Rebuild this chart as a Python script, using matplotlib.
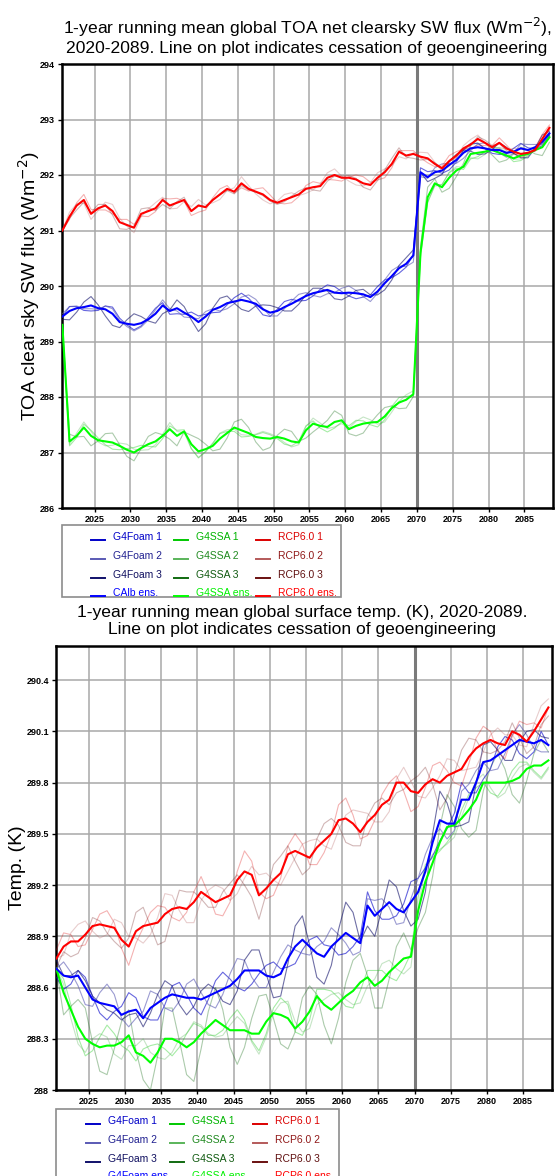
import numpy as np
import matplotlib
matplotlib.use('Agg')
import matplotlib.pyplot as plt
from matplotlib.lines import Line2D
from matplotlib.patches import Rectangle

FONT = ['Liberation Sans', 'DejaVu Sans']
W, H = 556, 1176

# mid-points of the 1-year running mean
years = np.arange(2020.5, 2089.0, 1.0)

# --- top panel: TOA clear-sky SW flux (Wm-2) ---
toa_foam_1 = [289.45, 289.63, 289.63, 289.56, 289.55, 289.56, 289.64, 289.62, 289.42, 289.30,
              289.21, 289.28, 289.44, 289.60, 289.70, 289.49, 289.50, 289.49, 289.53, 289.46,
              289.49, 289.52, 289.53, 289.66, 289.79, 289.87, 289.78, 289.64, 289.48, 289.45,
              289.58, 289.72, 289.76, 289.73, 289.74, 289.82, 289.94, 290.02, 289.99, 289.90,
              289.82, 289.77, 289.80, 289.84, 289.99, 290.11, 290.15, 290.23, 290.34, 290.57,
              292.13, 292.06, 292.08, 292.03, 292.09, 292.23, 292.45, 292.57, 292.57, 292.48,
              292.39, 292.37, 292.38, 292.48, 292.57, 292.49, 292.47, 292.53, 292.71]
toa_foam_2 = [289.50, 289.63, 289.64, 289.59, 289.59, 289.58, 289.64, 289.59, 289.38, 289.27,
              289.19, 289.26, 289.39, 289.57, 289.75, 289.59, 289.55, 289.44, 289.43, 289.41,
              289.54, 289.59, 289.55, 289.59, 289.68, 289.80, 289.84, 289.76, 289.60, 289.46,
              289.46, 289.59, 289.73, 289.85, 289.88, 289.83, 289.80, 289.86, 289.88, 289.96,
              290.00, 289.92, 289.81, 289.72, 289.87, 290.11, 290.28, 290.36, 290.35, 290.43,
              291.97, 291.94, 292.13, 292.20, 292.21, 292.21, 292.30, 292.44, 292.56, 292.58,
              292.50, 292.40, 292.32, 292.39, 292.56, 292.55, 292.55, 292.55, 292.75]
toa_foam_3 = [289.40, 289.39, 289.53, 289.71, 289.81, 289.66, 289.46, 289.29, 289.25, 289.39,
              289.50, 289.45, 289.37, 289.33, 289.50, 289.57, 289.75, 289.63, 289.39, 289.18,
              289.32, 289.60, 289.78, 289.82, 289.69, 289.58, 289.54, 289.64, 289.66, 289.65,
              289.61, 289.55, 289.55, 289.67, 289.84, 289.96, 289.96, 289.91, 289.77, 289.75,
              289.82, 289.92, 289.94, 289.84, 289.84, 289.93, 290.11, 290.37, 290.51, 290.65,
              292.05, 291.88, 291.94, 292.01, 292.24, 292.37, 292.45, 292.43, 292.37, 292.38,
              292.46, 292.58, 292.50, 292.39, 292.31, 292.31, 292.48, 292.72, 292.79]
toa_foam_ens = [289.45, 289.55, 289.60, 289.62, 289.65, 289.60, 289.58, 289.50, 289.35, 289.32,
                289.30, 289.33, 289.40, 289.50, 289.65, 289.55, 289.60, 289.52, 289.45, 289.35,
                289.45, 289.57, 289.62, 289.69, 289.72, 289.75, 289.72, 289.68, 289.58, 289.52,
                289.55, 289.62, 289.68, 289.75, 289.82, 289.87, 289.90, 289.93, 289.88, 289.87,
                289.88, 289.87, 289.85, 289.80, 289.90, 290.05, 290.18, 290.32, 290.40, 290.55,
                292.05, 291.96, 292.05, 292.08, 292.18, 292.27, 292.40, 292.48, 292.50, 292.48,
                292.45, 292.45, 292.40, 292.42, 292.48, 292.45, 292.50, 292.60, 292.75]

toa_ssa_1 = [289.30, 287.12, 287.27, 287.51, 287.40, 287.26, 287.14, 287.06, 287.05, 287.07,
             287.09, 287.13, 287.11, 287.10, 287.25, 287.48, 287.40, 287.41, 287.07, 286.91,
             287.02, 287.17, 287.34, 287.38, 287.38, 287.28, 287.29, 287.32, 287.36, 287.32,
             287.25, 287.15, 287.12, 287.20, 287.48, 287.57, 287.44, 287.37, 287.44, 287.55,
             287.48, 287.58, 287.57, 287.50, 287.46, 287.59, 287.83, 287.99, 288.01, 288.03,
             290.52, 291.50, 291.82, 291.83, 292.04, 292.12, 292.10, 292.29, 292.33, 292.42,
             292.51, 292.48, 292.37, 292.24, 292.26, 292.34, 292.48, 292.57, 292.72]
toa_ssa_2 = [289.30, 287.15, 287.35, 287.55, 287.38, 287.19, 287.12, 287.13, 287.17, 287.15,
             287.06, 287.04, 287.05, 287.14, 287.33, 287.54, 287.38, 287.36, 287.07, 286.90,
             287.01, 287.16, 287.35, 287.41, 287.42, 287.32, 287.31, 287.33, 287.38, 287.34,
             287.28, 287.18, 287.10, 287.14, 287.46, 287.62, 287.53, 287.43, 287.46, 287.52,
             287.44, 287.56, 287.64, 287.59, 287.51, 287.55, 287.73, 287.92, 288.04, 288.11,
             290.58, 291.52, 291.80, 291.82, 292.05, 292.15, 292.14, 292.31, 292.29, 292.37,
             292.48, 292.49, 292.41, 292.28, 292.29, 292.35, 292.49, 292.58, 292.73]
toa_ssa_3 = [289.30, 287.33, 287.28, 287.29, 287.12, 287.21, 287.34, 287.35, 287.14, 286.93,
             286.85, 287.07, 287.29, 287.36, 287.32, 287.24, 287.12, 287.37, 287.31, 287.25,
             287.15, 287.03, 287.06, 287.26, 287.55, 287.60, 287.45, 287.19, 287.04, 287.09,
             287.31, 287.42, 287.38, 287.20, 287.26, 287.37, 287.47, 287.58, 287.75, 287.67,
             287.34, 287.30, 287.35, 287.53, 287.68, 287.81, 287.84, 287.79, 287.80, 288.01,
             290.70, 291.78, 291.93, 291.69, 291.76, 291.97, 292.21, 292.54, 292.58, 292.47,
             292.36, 292.23, 292.27, 292.38, 292.50, 292.45, 292.38, 292.35, 292.59]
toa_ssa_ens = [289.30, 287.20, 287.30, 287.45, 287.30, 287.22, 287.20, 287.18, 287.12, 287.05,
               287.00, 287.08, 287.15, 287.20, 287.30, 287.42, 287.30, 287.38, 287.15, 287.02,
               287.06, 287.12, 287.25, 287.35, 287.45, 287.40, 287.35, 287.28, 287.26, 287.25,
               287.28, 287.25, 287.20, 287.18, 287.40, 287.52, 287.48, 287.46, 287.55, 287.58,
               287.42, 287.48, 287.52, 287.54, 287.55, 287.65, 287.80, 287.90, 287.95, 288.05,
               290.60, 291.60, 291.85, 291.78, 291.95, 292.08, 292.15, 292.38, 292.40, 292.42,
               292.45, 292.40, 292.35, 292.30, 292.35, 292.38, 292.45, 292.50, 292.68]

toa_rcp_1 = [291.00, 291.20, 291.50, 291.65, 291.38, 291.37, 291.37, 291.30, 291.20, 291.20,
             291.11, 291.26, 291.25, 291.34, 291.58, 291.57, 291.58, 291.53, 291.27, 291.33,
             291.37, 291.59, 291.75, 291.81, 291.67, 291.77, 291.71, 291.75, 291.77, 291.64,
             291.50, 291.48, 291.50, 291.61, 291.81, 291.88, 291.85, 291.92, 291.91, 291.89,
             291.97, 292.00, 291.97, 291.87, 291.91, 291.95, 292.13, 292.44, 292.44, 292.44,
             292.31, 292.22, 292.15, 292.16, 292.35, 292.42, 292.47, 292.48, 292.54, 292.53,
             292.53, 292.67, 292.54, 292.40, 292.32, 292.37, 292.49, 292.73, 292.90]
toa_rcp_2 = [291.00, 291.33, 291.48, 291.49, 291.20, 291.36, 291.51, 291.47, 291.22, 291.08,
             290.96, 291.25, 291.39, 291.50, 291.60, 291.39, 291.40, 291.52, 291.43, 291.56,
             291.46, 291.50, 291.56, 291.72, 291.77, 291.97, 291.81, 291.66, 291.55, 291.48,
             291.53, 291.65, 291.68, 291.63, 291.67, 291.73, 291.84, 292.04, 292.11, 291.98,
             291.89, 291.82, 291.80, 291.86, 292.04, 292.11, 292.17, 292.33, 292.29, 292.40,
             292.41, 292.40, 292.23, 292.07, 292.16, 292.31, 292.53, 292.64, 292.72, 292.58,
             292.44, 292.50, 292.46, 292.48, 292.47, 292.44, 292.42, 292.58, 292.81]
toa_rcp_3 = [291.00, 291.22, 291.37, 291.51, 291.32, 291.47, 291.47, 291.28, 291.03, 291.02,
             291.08, 291.39, 291.41, 291.36, 291.47, 291.39, 291.52, 291.60, 291.35, 291.46,
             291.43, 291.56, 291.64, 291.72, 291.66, 291.81, 291.73, 291.69, 291.63, 291.53,
             291.47, 291.52, 291.62, 291.71, 291.77, 291.73, 291.71, 291.89, 291.98, 291.98,
             291.99, 291.94, 291.78, 291.73, 291.90, 292.09, 292.30, 292.49, 292.32, 292.30,
             292.27, 292.28, 292.22, 292.13, 292.24, 292.32, 292.44, 292.53, 292.69, 292.63,
             292.53, 292.57, 292.44, 292.38, 292.35, 292.39, 292.44, 292.64, 292.84]
toa_rcp_ens = [291.00, 291.25, 291.45, 291.55, 291.30, 291.40, 291.45, 291.35, 291.15, 291.10,
               291.05, 291.30, 291.35, 291.40, 291.55, 291.45, 291.50, 291.55, 291.35, 291.45,
               291.42, 291.55, 291.65, 291.75, 291.70, 291.85, 291.75, 291.70, 291.65, 291.55,
               291.50, 291.55, 291.60, 291.65, 291.75, 291.78, 291.80, 291.95, 292.00, 291.95,
               291.95, 291.92, 291.85, 291.82, 291.95, 292.05, 292.20, 292.42, 292.35, 292.38,
               292.33, 292.30, 292.20, 292.12, 292.25, 292.35, 292.48, 292.55, 292.65, 292.58,
               292.50, 292.58, 292.48, 292.42, 292.38, 292.40, 292.45, 292.65, 292.85]

# --- bottom panel: global surface temperature (K) ---
tas_foam_1 = [288.66, 288.59, 288.62, 288.70, 288.66, 288.55, 288.45, 288.41, 288.46, 288.49,
              288.57, 288.54, 288.43, 288.41, 288.41, 288.50, 288.61, 288.63, 288.56, 288.48,
              288.44, 288.53, 288.64, 288.69, 288.65, 288.60, 288.58, 288.62, 288.68, 288.73,
              288.75, 288.71, 288.72, 288.74, 288.82, 288.88, 288.90, 288.85, 288.84, 288.79,
              288.80, 288.84, 288.90, 289.16, 289.05, 289.00, 289.00, 289.02, 289.09, 289.22,
              289.24, 289.30, 289.37, 289.46, 289.53, 289.62, 289.80, 289.74, 289.74, 289.82,
              289.88, 290.01, 290.07, 290.05, 289.97, 289.94, 289.98, 290.10, 290.02]
tas_foam_2 = [288.71, 288.75, 288.69, 288.61, 288.50, 288.49, 288.57, 288.62, 288.56, 288.42,
              288.37, 288.42, 288.46, 288.58, 288.56, 288.48, 288.46, 288.52, 288.62, 288.65,
              288.57, 288.50, 288.48, 288.56, 288.68, 288.77, 288.76, 288.66, 288.60, 288.60,
              288.69, 288.78, 288.85, 288.82, 288.80, 288.79, 288.84, 288.87, 288.95, 288.91,
              288.86, 288.79, 288.81, 289.12, 289.11, 289.12, 289.07, 288.97, 288.98, 289.12,
              289.24, 289.38, 289.48, 289.53, 289.47, 289.52, 289.75, 289.79, 289.87, 289.92,
              289.87, 289.88, 289.97, 290.08, 290.14, 290.08, 290.00, 289.98, 289.98]
tas_foam_3 = [288.76, 288.67, 288.67, 288.70, 288.64, 288.55, 288.51, 288.47, 288.45, 288.41,
              288.44, 288.45, 288.37, 288.45, 288.56, 288.64, 288.61, 288.50, 288.44, 288.49,
              288.58, 288.62, 288.59, 288.52, 288.50, 288.58, 288.76, 288.82, 288.82, 288.68,
              288.54, 288.55, 288.74, 288.96, 289.02, 288.85, 288.66, 288.62, 288.73, 288.94,
              289.10, 289.04, 288.87, 288.96, 288.90, 289.06, 289.23, 289.19, 289.05, 288.96,
              289.00, 289.16, 289.50, 289.75, 289.68, 289.54, 289.55, 289.57, 289.79, 290.02,
              290.04, 289.99, 289.93, 289.93, 290.04, 290.10, 290.11, 290.07, 290.06]
tas_foam_ens = [288.71, 288.67, 288.66, 288.67, 288.60, 288.53, 288.51, 288.50, 288.49, 288.44,
                288.46, 288.47, 288.42, 288.48, 288.51, 288.54, 288.56, 288.55, 288.54, 288.54,
                288.53, 288.55, 288.57, 288.59, 288.61, 288.65, 288.70, 288.70, 288.70, 288.67,
                288.66, 288.68, 288.77, 288.84, 288.88, 288.84, 288.80, 288.78, 288.84, 288.88,
                288.92, 288.89, 288.86, 289.08, 289.02, 289.06, 289.10, 289.06, 289.04, 289.10,
                289.16, 289.28, 289.45, 289.58, 289.56, 289.56, 289.70, 289.70, 289.80, 289.92,
                289.93, 289.96, 289.99, 290.02, 290.05, 290.04, 290.03, 290.05, 290.02]

tas_ssa_1 = [288.71, 288.65, 288.50, 288.31, 288.20, 288.23, 288.31, 288.38, 288.33, 288.26,
             288.23, 288.17, 288.24, 288.26, 288.27, 288.24, 288.20, 288.25, 288.33, 288.39,
             288.37, 288.32, 288.32, 288.35, 288.42, 288.47, 288.41, 288.29, 288.23, 288.33,
             288.48, 288.54, 288.50, 288.34, 288.32, 288.41, 288.59, 288.59, 288.58, 288.54,
             288.49, 288.48, 288.58, 288.70, 288.70, 288.70, 288.66, 288.64, 288.71, 288.80,
             289.13, 289.32, 289.36, 289.40, 289.45, 289.51, 289.64, 289.73, 289.77, 289.80,
             289.74, 289.72, 289.78, 289.87, 289.92, 289.92, 289.87, 289.83, 289.89]
tas_ssa_2 = [288.71, 288.62, 288.42, 288.27, 288.22, 288.30, 288.33, 288.31, 288.21, 288.18,
             288.26, 288.26, 288.30, 288.22, 288.19, 288.18, 288.22, 288.30, 288.33, 288.40,
             288.38, 288.33, 288.31, 288.32, 288.38, 288.43, 288.39, 288.28, 288.21, 288.31,
             288.45, 288.51, 288.52, 288.40, 288.34, 288.36, 288.50, 288.53, 288.56, 288.57,
             288.53, 288.50, 288.51, 288.61, 288.65, 288.74, 288.76, 288.71, 288.68, 288.72,
             289.07, 289.30, 289.38, 289.41, 289.44, 289.48, 289.60, 289.71, 289.81, 289.85,
             289.77, 289.71, 289.74, 289.83, 289.89, 289.91, 289.86, 289.82, 289.88]
tas_ssa_3 = [288.71, 288.44, 288.49, 288.53, 288.48, 288.28, 288.11, 288.09, 288.24, 288.40,
             288.47, 288.23, 288.06, 288.00, 288.20, 288.48, 288.48, 288.29, 288.09, 288.05,
             288.24, 288.46, 288.60, 288.47, 288.25, 288.15, 288.25, 288.42, 288.55, 288.56,
             288.42, 288.27, 288.24, 288.34, 288.54, 288.61, 288.56, 288.38, 288.27, 288.42,
             288.63, 288.76, 288.80, 288.67, 288.48, 288.48, 288.65, 288.84, 288.92, 288.82,
             288.95, 289.04, 289.25, 289.54, 289.73, 289.66, 289.53, 289.48, 289.52, 289.75,
             289.89, 289.97, 289.88, 289.73, 289.68, 289.81, 289.97, 290.05, 289.98]
tas_ssa_ens = [288.71, 288.57, 288.47, 288.37, 288.30, 288.27, 288.25, 288.26, 288.26, 288.28,
               288.32, 288.22, 288.20, 288.16, 288.22, 288.30, 288.30, 288.28, 288.25, 288.28,
               288.33, 288.37, 288.41, 288.38, 288.35, 288.35, 288.35, 288.33, 288.33, 288.40,
               288.45, 288.44, 288.42, 288.36, 288.40, 288.46, 288.55, 288.50, 288.47, 288.51,
               288.55, 288.58, 288.63, 288.66, 288.61, 288.64, 288.69, 288.73, 288.77, 288.78,
               289.05, 289.22, 289.33, 289.45, 289.54, 289.55, 289.59, 289.64, 289.70, 289.80,
               289.80, 289.80, 289.80, 289.81, 289.83, 289.88, 289.90, 289.90, 289.93]

tas_rcp_1 = [288.82, 288.92, 288.91, 288.84, 288.85, 288.94, 289.03, 289.05, 288.98, 288.83,
             288.73, 288.86, 288.95, 289.04, 289.08, 289.07, 289.01, 288.99, 289.04, 289.16,
             289.25, 289.15, 289.03, 289.02, 289.10, 289.28, 289.40, 289.34, 289.16, 289.12,
             289.14, 289.24, 289.43, 289.50, 289.44, 289.32, 289.32, 289.39, 289.50, 289.67,
             289.71, 289.61, 289.47, 289.49, 289.58, 289.73, 289.80, 289.84, 289.75, 289.63,
             289.66, 289.77, 289.90, 289.92, 289.87, 289.80, 289.78, 289.91, 290.06, 290.13,
             290.10, 289.98, 289.94, 290.07, 290.16, 290.14, 290.15, 290.12, 290.24]
tas_rcp_2 = [288.77, 288.79, 288.92, 288.97, 288.99, 288.93, 288.89, 288.91, 289.00, 288.98,
             288.90, 288.89, 288.86, 288.91, 289.01, 289.15, 289.14, 289.05, 288.98, 288.98,
             289.11, 289.17, 289.20, 289.18, 289.11, 289.15, 289.24, 289.31, 289.26, 289.27,
             289.23, 289.20, 289.28, 289.36, 289.44, 289.46, 289.47, 289.43, 289.41, 289.52,
             289.61, 289.64, 289.63, 289.62, 289.57, 289.57, 289.63, 289.82, 289.89, 289.81,
             289.72, 289.71, 289.77, 289.84, 289.94, 289.93, 289.87, 289.88, 289.89, 289.98,
             290.08, 290.12, 290.08, 290.08, 290.02, 290.01, 290.14, 290.25, 290.29]
tas_rcp_3 = [288.72, 288.81, 288.78, 288.80, 288.89, 289.01, 288.99, 288.92, 288.87, 288.83,
             288.89, 289.04, 289.07, 288.96, 288.85, 288.87, 289.03, 289.17, 289.16, 289.16,
             289.12, 289.07, 289.07, 289.16, 289.21, 289.26, 289.20, 289.13, 289.00, 289.15,
             289.32, 289.37, 289.43, 289.34, 289.26, 289.30, 289.47, 289.56, 289.59, 289.55,
             289.45, 289.43, 289.43, 289.60, 289.68, 289.71, 289.67, 289.74, 289.76, 289.81,
             289.84, 289.89, 289.79, 289.64, 289.71, 289.85, 289.99, 290.06, 290.05, 289.98,
             289.97, 289.99, 290.04, 290.15, 290.06, 289.97, 290.01, 290.14, 290.19]
tas_rcp_ens = [288.77, 288.84, 288.87, 288.87, 288.91, 288.96, 288.97, 288.96, 288.95, 288.88,
               288.84, 288.93, 288.96, 288.97, 288.98, 289.03, 289.06, 289.07, 289.06, 289.10,
               289.16, 289.13, 289.10, 289.12, 289.14, 289.23, 289.28, 289.26, 289.14, 289.18,
               289.23, 289.27, 289.38, 289.40, 289.38, 289.36, 289.42, 289.46, 289.50, 289.58,
               289.59, 289.56, 289.51, 289.57, 289.61, 289.67, 289.70, 289.80, 289.80, 289.75,
               289.74, 289.79, 289.82, 289.80, 289.84, 289.86, 289.88, 289.95, 290.00, 290.03,
               290.05, 290.03, 290.02, 290.10, 290.08, 290.04, 290.10, 290.17, 290.24]

# axis ticks
x_ticks = [2025, 2030, 2035, 2040, 2045, 2050, 2055, 2060, 2065, 2070, 2075, 2080, 2085]
toa_ticks = [286, 287, 288, 289, 290, 291, 292, 293, 294]
toa_tick_labels = ['286', '287', '288', '289', '290', '291', '292', '293', '294']
tas_ticks = [288.0, 288.3, 288.6, 288.9, 289.2, 289.5, 289.8, 290.1, 290.4]
tas_tick_labels = ['288', '288.3', '288.6', '288.9', '289.2', '289.5', '289.8', '290.1', '290.4']
stop_year = 2070

# colours (lines) and legend text colours
c_foam = ['#0000c8', '#5a5ab4', '#10106a', '#0000ff']
c_ssa = ['#00c800', '#5ab45a', '#106a10', '#00ff00']
c_rcp = ['#dc0000', '#b45a5a', '#6a1010', '#ff0000']
t_foam = ['#0000c8', '#202090', '#101060', '#0000ff']
t_ssa = ['#00b400', '#208a20', '#105a10', '#00f000']
t_rcp = ['#dc0000', '#901818', '#601010', '#ff0000']

toa_labels = [['G4Foam 1', 'G4Foam 2', 'G4Foam 3', 'CAlb ens.'],
              ['G4SSA 1', 'G4SSA 2', 'G4SSA 3', 'G4SSA ens.'],
              ['RCP6.0 1', 'RCP6.0 2', 'RCP6.0 3', 'RCP6.0 ens.']]
tas_labels = [['G4Foam 1', 'G4Foam 2', 'G4Foam 3', 'G4Foam ens.'],
              ['G4SSA 1', 'G4SSA 2', 'G4SSA 3', 'G4SSA ens.'],
              ['RCP6.0 1', 'RCP6.0 2', 'RCP6.0 3', 'RCP6.0 ens.']]


def px_box(x0, y0, x1, y1):
    # pixel box (top-left origin) -> figure fraction rect
    return [x0 / W, 1 - y1 / H, (x1 - x0) / W, (y1 - y0) / H]


def draw_panel(ax, groups, ticks, tick_labels, ylim):
    # members first (faint), then ensemble means on top
    for members, colors, alpha in groups:
        for vals, col in zip(members[:3], colors[:3]):
            ax.plot(years, vals, color=col, lw=0.8, alpha=alpha, zorder=3)
    for members, colors, alpha in groups:
        ax.plot(years, members[3], color=colors[3], lw=1.5, zorder=4)

    ax.axvline(stop_year, color='#7a7a7a', lw=2.2, zorder=2)
    ax.set_xlim(2020.45, 2089.0)
    ax.set_ylim(*ylim)
    ax.set_xticks(x_ticks)
    ax.set_xticklabels([str(y) for y in x_ticks])
    ax.set_yticks(ticks)
    ax.set_yticklabels(tick_labels)
    ax.grid(True, color='#a8a8a8', lw=1.1, zorder=1)
    ax.set_axisbelow(True)
    for s in ax.spines.values():
        s.set_linewidth(1.8)
        s.set_color('black')
    ax.tick_params(direction='out', length=3, width=1, pad=2, labelsize=6.5)
    for lab in ax.get_xticklabels() + ax.get_yticklabels():
        lab.set_fontfamily(FONT)
        lab.set_fontweight('bold')


def draw_legend(fig, box, line_x, text_x, rows_y, labels, colors, text_colors):
    x0, y0, x1, y1 = box
    fig.add_artist(Rectangle((x0 / W, 1 - y1 / H), (x1 - x0) / W, (y1 - y0) / H,
                             transform=fig.transFigure, fill=False, edgecolor='#8c8c8c', lw=1.2))
    for col in range(3):
        for row in range(4):
            y = 1 - rows_y[row] / H
            fig.add_artist(Line2D([line_x[col] / W, (line_x[col] + 14) / W], [y - 3 / H, y - 3 / H],
                                  transform=fig.transFigure, color=colors[col][row], lw=1.4))
            fig.text(text_x[col] / W, y, labels[col][row], color=text_colors[col][row],
                     fontsize=7.5, family=FONT, va='center', ha='left')


fig = plt.figure(figsize=(W / 100, H / 100), dpi=100)

# top panel
ax1 = fig.add_axes(px_box(62, 64, 553, 508))
draw_panel(ax1,
           [([toa_ssa_1, toa_ssa_2, toa_ssa_3, toa_ssa_ens], c_ssa, 0.35),
            ([toa_foam_1, toa_foam_2, toa_foam_3, toa_foam_ens], c_foam, 0.6),
            ([toa_rcp_1, toa_rcp_2, toa_rcp_3, toa_rcp_ens], c_rcp, 0.3)],
           toa_ticks, toa_tick_labels, (286, 294))
fig.text(307 / W, 1 - 36 / H,
         '1-year running mean global TOA net clearsky SW flux (Wm$^{-2}$),\n'
         '2020-2089. Line on plot indicates cessation of geoengineering',
         ha='center', va='center', fontsize=12.6, family=FONT, linespacing=1.1)
fig.text(29 / W, 1 - 286 / H, 'TOA clear sky SW flux (Wm$^{-2}$)', rotation=90,
         ha='center', va='center', fontsize=14, family=FONT)
draw_legend(fig, (62, 525, 341, 597), [91, 174, 256], [113, 196, 278], [537, 556, 575, 593],
            toa_labels, [c_foam, c_ssa, c_rcp], [t_foam, t_ssa, t_rcp])

# bottom panel
ax2 = fig.add_axes(px_box(56, 646, 552, 1090))
draw_panel(ax2,
           [([tas_ssa_1, tas_ssa_2, tas_ssa_3, tas_ssa_ens], c_ssa, 0.35),
            ([tas_foam_1, tas_foam_2, tas_foam_3, tas_foam_ens], c_foam, 0.6),
            ([tas_rcp_1, tas_rcp_2, tas_rcp_3, tas_rcp_ens], c_rcp, 0.3)],
           tas_ticks, tas_tick_labels, (288, 290.6))
fig.text(302 / W, 1 - 621 / H,
         '1-year running mean global surface temp. (K), 2020-2089.\n'
         'Line on plot indicates cessation of geoengineering',
         ha='center', va='center', fontsize=12.6, family=FONT, linespacing=1.1)
fig.text(18 / W, 1 - 868 / H, 'Temp. (K)', rotation=90,
         ha='center', va='center', fontsize=14, family=FONT)
draw_legend(fig, (56, 1109, 339, 1190), [86, 170, 253], [108, 192, 275], [1121, 1140, 1159, 1176],
            tas_labels, [c_foam, c_ssa, c_rcp], [t_foam, t_ssa, t_rcp])

fig.savefig('out.png', dpi=100)
